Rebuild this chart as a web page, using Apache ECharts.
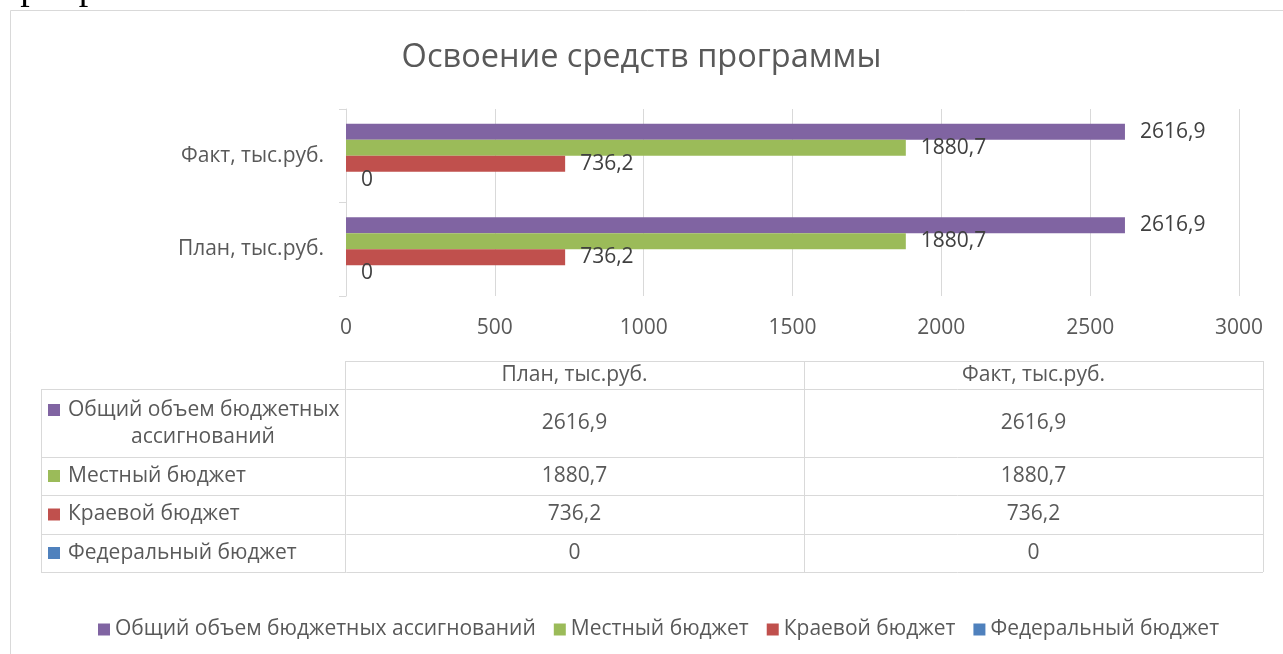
<!DOCTYPE html>
<html>
<head>
<meta charset="utf-8">
<script src="https://cdn.jsdelivr.net/npm/echarts@6/dist/echarts.min.js"></script>
<style>
  html, body { margin: 0; padding: 0; background: #ffffff; }
  #chart { width: 1283px; height: 654px; }
</style>
</head>
<body>
<div id="chart"></div>
<script>
// ---- data ----
const chartTitle = 'Освоение средств программы';
const categories = ['План, тыс.руб.', 'Факт, тыс.руб.'];
const seriesNames = ['Общий объем бюджетных ассигнований', 'Местный бюджет', 'Краевой бюджет', 'Федеральный бюджет'];
const planValues = [2616.9, 1880.7, 736.2, 0];
const factValues = [2616.9, 1880.7, 736.2, 0];
const seriesColors = ['#8064a2', '#9bbb59', '#c0504d', '#4f81bd'];
const axisMin = 0, axisMax = 3000, axisStep = 500;
const pageText = 'приоритетных объектов выполнен на 100%.';

// ---- helpers ----
const FONT = '"Open Sans", "Noto Sans", sans-serif';
const fmt = v => String(v).replace('.', ',');
const TXT = '#595959';
const LINE = '#d9d9d9';
const FS = 21;

const series = seriesNames.map((name, i) => ({
  name: name,
  type: 'bar',
  data: [planValues[i], factValues[i]],
  barWidth: 16,
  barGap: '0%',
  itemStyle: { color: seriesColors[i] },
  label: {
    show: true,
    position: 'right',
    distance: 15,
    color: '#404040',
    fontFamily: FONT,
    fontSize: FS,
    formatter: p => fmt(p.value)
  }
}));

// ---- data table graphics ----
const tbl = { x0: 41, xa: 345, xb: 804, x1: 1263, yh: 361, rows: [389, 457, 495, 534, 572] };
const g = [];
const ln = (x1, y1, x2, y2) => g.push({ type: 'line', silent: true,
  shape: { x1: x1, y1: y1, x2: x2, y2: y2 }, style: { stroke: LINE, lineWidth: 1 } });
// horizontal lines
ln(tbl.xa, tbl.yh + 0.5, tbl.x1, tbl.yh + 0.5);
tbl.rows.forEach(y => ln(tbl.x0, y + 0.5, tbl.x1, y + 0.5));
// vertical lines
ln(tbl.x0 + 0.5, tbl.rows[0], tbl.x0 + 0.5, tbl.rows[4]);
[tbl.xa, tbl.xb, tbl.x1].forEach(x => ln(x + 0.5, tbl.yh, x + 0.5, tbl.rows[4]));
// header
const colCenters = [(tbl.xa + tbl.xb) / 2, (tbl.xb + tbl.x1) / 2];
categories.forEach((c, j) => g.push({ type: 'text', silent: true, x: colCenters[j], y: (tbl.yh + tbl.rows[0]) / 2,
  style: { text: c, fill: TXT, font: FS + 'px ' + FONT, align: 'center', verticalAlign: 'middle' } }));
// body
const colValues = [planValues, factValues];
seriesNames.forEach((name, i) => {
  const yc = (tbl.rows[i] + tbl.rows[i + 1]) / 2;
  const wrap = name.length > 22;
  g.push({ type: 'rect', silent: true, shape: { x: 48, y: wrap ? yc - 19 : yc - 6, width: 12, height: 12 },
    style: { fill: seriesColors[i] } });
  if (wrap) {
    const words = name.split(' ');
    const l1 = words.slice(0, words.length - 1).join(' ');
    const l2 = words[words.length - 1];
    g.push({ type: 'text', silent: true, x: 68, y: yc - 13,
      style: { text: l1, fill: TXT, font: FS + 'px ' + FONT, align: 'left', verticalAlign: 'middle' } });
    g.push({ type: 'text', silent: true, x: 203, y: yc + 14,
      style: { text: l2, fill: TXT, font: FS + 'px ' + FONT, align: 'center', verticalAlign: 'middle' } });
  } else {
    g.push({ type: 'text', silent: true, x: 68, y: yc,
      style: { text: name, fill: TXT, font: FS + 'px ' + FONT, align: 'left', verticalAlign: 'middle' } });
  }
  colValues.forEach((vals, j) => g.push({ type: 'text', silent: true, x: colCenters[j], y: yc,
    style: { text: fmt(vals[i]), fill: TXT, font: FS + 'px ' + FONT, align: 'center', verticalAlign: 'middle' } }));
});
// outer chart border
g.push({ type: 'rect', silent: true, shape: { x: 10.5, y: 10.5, width: 1400, height: 800 },
  style: { fill: 'none', stroke: LINE, lineWidth: 1 } });
// cut-off document text above the chart
g.push({ type: 'text', silent: true, x: 0, y: -11,
  style: { text: pageText, fill: '#000', font: '38px "Liberation Serif", "Times New Roman", serif',
    align: 'left', verticalAlign: 'middle' } });

const option = {
  animation: false,
  backgroundColor: '#ffffff',
  title: {
    text: chartTitle, left: 'center', top: 36,
    textStyle: { color: TXT, fontFamily: FONT, fontSize: 32.5, fontWeight: 'normal' }
  },
  legend: {
    data: seriesNames,
    left: 93, top: 614,
    icon: 'rect', itemWidth: 12, itemHeight: 12, itemGap: 18,
    textStyle: { color: TXT, fontFamily: FONT, fontSize: FS },
    selectedMode: false
  },
  grid: { left: 346, top: 109, width: 893, height: 187, containLabel: false },
  xAxis: {
    type: 'value', min: axisMin, max: axisMax, interval: axisStep,
    axisLine: { show: false }, axisTick: { show: false },
    splitLine: { show: true, lineStyle: { color: LINE, width: 1 } },
    axisLabel: { color: TXT, fontFamily: FONT, fontSize: FS, margin: 22, formatter: v => String(v) }
  },
  yAxis: {
    type: 'category', data: categories,
    axisLine: { show: true, lineStyle: { color: LINE, width: 1 } },
    axisTick: { show: true, length: 7, lineStyle: { color: LINE } },
    splitLine: { show: false },
    axisLabel: { color: TXT, fontFamily: FONT, fontSize: FS, margin: 22 }
  },
  series: series,
  graphic: g
};

const chart = echarts.init(document.getElementById('chart'), null, { renderer: 'canvas' });
chart.setOption(option);
</script>
</body>
</html>
